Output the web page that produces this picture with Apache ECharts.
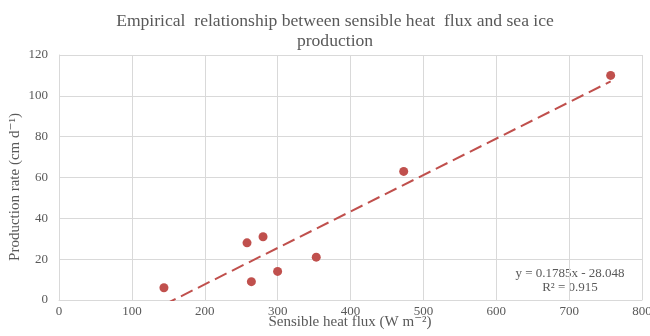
<!DOCTYPE html>
<html>
<head>
<meta charset="utf-8">
<script src="https://cdn.jsdelivr.net/npm/echarts@6/dist/echarts.min.js"></script>
<style>
  html, body { margin: 0; padding: 0; background: #fff; }
  #chart { width: 650px; height: 336px; }
</style>
</head>
<body>
<div id="chart"></div>
<script>
// Observed sensible heat flux (W m-2) and sea ice production rate (cm d-1)
const heatFlux = [144, 258, 264, 280, 300, 353, 473, 757];
const productionRate = [6, 28, 9, 31, 14, 21, 63, 110];

// Linear fit reported on the chart
const slope = 0.1785;
const intercept = -28.048;
const rSquared = 0.915;

const xTicks = [0, 100, 200, 300, 400, 500, 600, 700, 800];
const yTicks = [0, 20, 40, 60, 80, 100, 120];

const FONT = '"Liberation Serif", "DejaVu Serif", serif';
const TEXT = '#595959';
const GRID = '#d9d9d9';
const RED = '#c0504d';

const points = heatFlux.map((x, i) => [x, productionRate[i]]);
const xMin = Math.min(...heatFlux);
const xMax = Math.max(...heatFlux);
const trend = [[xMin, slope * xMin + intercept], [xMax, slope * xMax + intercept]];

const chart = echarts.init(document.getElementById('chart'));
chart.setOption({
  animation: false,
  backgroundColor: '#fff',
  title: {
    text: 'Empirical  relationship between sensible heat  flux and sea ice\nproduction',
    left: 330,
    top: 6,
    textAlign: 'center',
    textStyle: { fontFamily: FONT, fontSize: 17.6, fontWeight: 'normal', color: TEXT, lineHeight: 20 }
  },
  grid: { left: 59, right: 8, top: 55, bottom: 36, containLabel: false, outerBoundsMode: 'none' },
  xAxis: {
    type: 'value',
    min: xTicks[0],
    max: xTicks[xTicks.length - 1],
    interval: 100,
    axisLine: { show: true, lineStyle: { color: GRID } },
    axisTick: { show: false },
    axisLabel: { fontFamily: FONT, fontSize: 13, color: TEXT, margin: 5 },
    splitLine: { show: true, lineStyle: { color: GRID } }
  },
  yAxis: {
    type: 'value',
    min: yTicks[0],
    max: yTicks[yTicks.length - 1],
    interval: 20,
    axisLine: { show: true, lineStyle: { color: GRID } },
    axisTick: { show: false },
    axisLabel: { fontFamily: FONT, fontSize: 13, color: TEXT, margin: 11 },
    splitLine: { show: true, lineStyle: { color: GRID } }
  },
  series: [
    {
      type: 'line',
      data: trend,
      symbol: 'none',
      clip: true,
      lineStyle: { color: RED, width: 2, type: [13, 6] },
      z: 2
    },
    {
      type: 'scatter',
      data: points,
      symbol: 'circle',
      symbolSize: 9,
      itemStyle: { color: RED, opacity: 1 },
      z: 3
    }
  ],
  graphic: [
    {
      // horizontal axis title
      type: 'text',
      x: 350,
      y: 322,
      style: {
        text: 'Sensible heat flux (W m⁻²)',
        align: 'center',
        verticalAlign: 'middle',
        font: '15px ' + FONT,
        fill: TEXT
      }
    },
    {
      // vertical axis title
      type: 'text',
      x: 15,
      y: 187,
      rotation: Math.PI / 2,
      style: {
        text: 'Production rate (cm d⁻¹)',
        align: 'center',
        verticalAlign: 'middle',
        font: '15px ' + FONT,
        fill: TEXT
      }
    },
    {
      // trendline equation and goodness of fit
      type: 'text',
      x: 570,
      y: 281,
      style: {
        text: 'y = 0.1785x - 28.048\nR² = ' + rSquared,
        align: 'center',
        verticalAlign: 'middle',
        lineHeight: 14,
        font: '13px ' + FONT,
        fill: TEXT
      }
    }
  ]
});
</script>
</body>
</html>
